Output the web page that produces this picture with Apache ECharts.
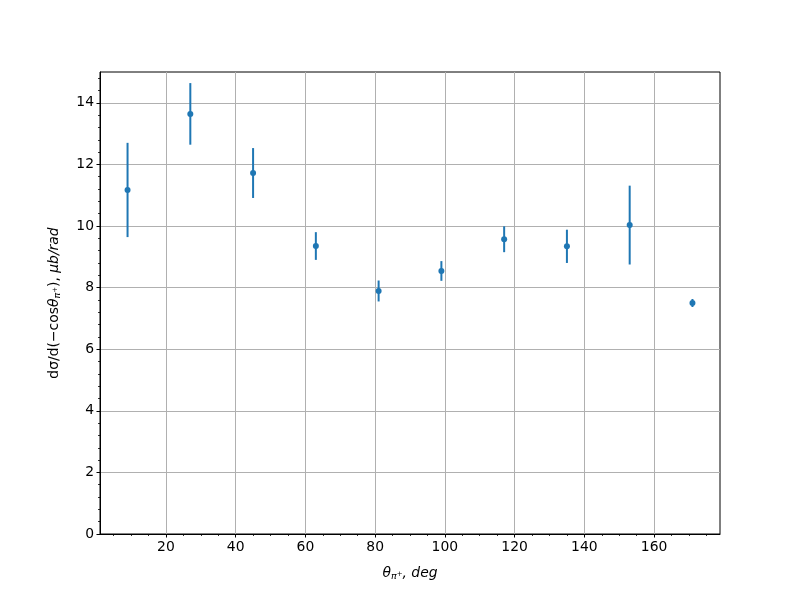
<!DOCTYPE html>
<html><head><meta charset="utf-8">
<script src="https://cdn.jsdelivr.net/npm/echarts@6/dist/echarts.min.js"></script>
<style>html,body{margin:0;padding:0;background:#fff}#c{width:800px;height:600px}</style>
</head><body><div id="c"></div>
<script>
const angles = [9, 27, 45, 63, 81, 99, 117, 135, 153, 171];
const values = [11.17, 13.64, 11.72, 9.35, 7.89, 8.54, 9.57, 9.34, 10.03, 7.50];
const errors = [1.53, 1.00, 0.81, 0.45, 0.34, 0.32, 0.42, 0.54, 1.28, 0.13];
const xMajorTicks = [20, 40, 60, 80, 100, 120, 140, 160];
const xMinorTicks = [5, 10, 15, 25, 30, 35, 45, 50, 55, 65, 70, 75, 85, 90, 95, 105, 110, 115, 125, 130, 135, 145, 150, 155, 165, 170, 175];
const yMajorTicks = [0, 2, 4, 6, 8, 10, 12, 14];
const yMinorTicks = [0.4, 0.8, 1.2, 1.6, 2.4, 2.8, 3.2, 3.6, 4.4, 4.8, 5.2, 5.6, 6.4, 6.8, 7.2, 7.6, 8.4, 8.8, 9.2, 9.6, 10.4, 10.8, 11.2, 11.6, 12.4, 12.8, 13.2, 13.6, 14.4, 14.8];

const pts = angles.map((a, i) => [a, values[i]]);
const bars = angles.map((a, i) => [a, values[i] - errors[i], values[i] + errors[i]]);
const FONT = 'DejaVu Sans';
const C = '#1f77b4';

const richParts = {
  n: {fontFamily: FONT, fontSize: 13.9, color: '#000', verticalAlign: 'middle', lineHeight: 20},
  i: {fontFamily: FONT, fontSize: 13.9, fontStyle: 'italic', color: '#000', verticalAlign: 'middle', lineHeight: 20},
  s: {fontFamily: FONT, fontSize: 9.5, fontStyle: 'italic', color: '#000', verticalAlign: 'bottom', lineHeight: 20, padding: [0, 0, 1, 0]},
  p: {fontFamily: FONT, fontSize: 7, color: '#000', verticalAlign: 'bottom', lineHeight: 20, padding: [0, 0, 5, 0]}
};

const chart = echarts.init(document.getElementById('c'), null, {renderer: 'canvas'});
chart.setOption({
  animation: false,
  backgroundColor: '#fff',
  grid: {left: 100, right: 80, top: 72, bottom: 66, show: true, borderColor: '#000', borderWidth: 1, backgroundColor: 'transparent'},
  xAxis: [{
    type: 'value', min: 1.1, max: 178.9,
    axisLine: {show: true, onZero: false, lineStyle: {color: '#000', width: 1}},
    axisTick: {show: true, length: 3.5, customValues: xMajorTicks, lineStyle: {color: '#000', width: 1}},
    axisLabel: {show: true, customValues: xMajorTicks, color: '#000', fontFamily: FONT, fontSize: 13.9, margin: 6},
    splitLine: {show: true, lineStyle: {color: '#b0b0b0', width: 1}},
    name: '{i|θ}{s|π}{p|+}{i|, deg}',
    nameLocation: 'middle', nameGap: 29,
    nameTextStyle: {color: '#000', fontFamily: FONT, fontSize: 13.9, rich: richParts}
  }, {
    type: 'value', min: 1.1, max: 178.9, position: 'bottom',
    axisLine: {show: false},
    axisTick: {show: true, length: 2, customValues: xMinorTicks, lineStyle: {color: '#000', width: 0.8}},
    axisLabel: {show: false},
    splitLine: {show: false}
  }],
  yAxis: [{
    type: 'value', min: 0, max: 15,
    axisLine: {show: true, onZero: false, lineStyle: {color: '#000', width: 1}},
    axisTick: {show: true, length: 3.5, customValues: yMajorTicks, lineStyle: {color: '#000', width: 1}},
    axisLabel: {color: '#000', customValues: yMajorTicks, fontFamily: FONT, fontSize: 13.9, margin: 6},
    splitLine: {show: true, lineStyle: {color: '#b0b0b0', width: 1}},
    name: '{n|dσ/d(−cos}{i|θ}{s|π}{p|+}{n|), }{i|μb/rad}',
    nameLocation: 'middle', nameGap: 36, nameRotate: 90,
    nameTextStyle: {color: '#000', fontFamily: FONT, fontSize: 13.9, rich: richParts}
  }, {
    type: 'value', min: 0, max: 15, position: 'left',
    axisLine: {show: false},
    axisTick: {show: true, length: 2, customValues: yMinorTicks, lineStyle: {color: '#000', width: 0.8}},
    axisLabel: {show: false},
    splitLine: {show: false}
  }],
  series: [{
    type: 'custom',
    xAxisIndex: 0,
    yAxisIndex: 0,
    z: 2,
    silent: true,
    data: bars,
    renderItem: function (params, api) {
      const x = api.value(0);
      const lo = api.coord([x, api.value(1)]);
      const hi = api.coord([x, api.value(2)]);
      return {type: 'line', shape: {x1: lo[0], y1: lo[1], x2: hi[0], y2: hi[1]},
        style: {stroke: C, lineWidth: 2}};
    }
  }, {
    type: 'scatter',
    xAxisIndex: 0,
    yAxisIndex: 0,
    z: 3,
    data: pts,
    symbol: 'circle',
    symbolSize: 6,
    itemStyle: {color: C, opacity: 1}
  }]
});
</script>
</body></html>
